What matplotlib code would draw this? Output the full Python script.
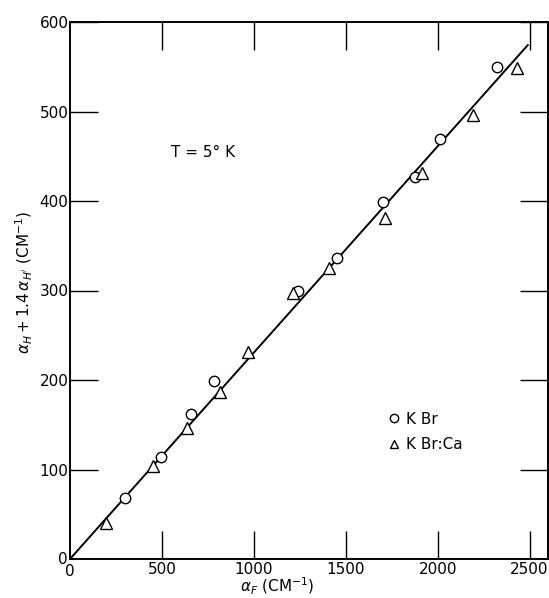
import matplotlib
matplotlib.use("Agg")
import matplotlib.pyplot as plt
import numpy as np

# KBr (open circles)
kbr_x = [300, 495, 660, 785, 1240, 1450, 1705, 1875, 2015, 2320]
kbr_y = [68, 114, 162, 199, 299, 336, 399, 427, 469, 550]

# KBr:Ca (open triangles)
kbrca_x = [196, 452, 637, 817, 970, 1215, 1411, 1716, 1917, 2190, 2429]
kbrca_y = [40, 104, 146, 187, 231, 297, 325, 381, 431, 496, 549]

# straight line through the origin
FIT_SLOPE = 0.2306
FIT_XMAX = 2490

xticks = [500, 1000, 1500, 2000, 2500]
yticks = [100, 200, 300, 400, 500, 600]

plt.rcParams["font.family"] = "DejaVu Sans"
plt.rcParams["mathtext.fontset"] = "dejavusans"

W, H = 549, 598
fig = plt.figure(figsize=(W / 100, H / 100), dpi=100)
ax = fig.add_axes([70 / W, 1 - 559 / H, 478 / W, 537 / H])

fx = np.array([0, FIT_XMAX])
ax.plot(fx, FIT_SLOPE * fx, color="black", lw=1.4)

ax.plot(kbr_x, kbr_y, "o", ms=7.5, mfc="white", mec="black", mew=1.0,
        label="K Br", linestyle="none")
ax.plot(kbrca_x, kbrca_y, "^", ms=8, mfc="white", mec="black", mew=1.0,
        label="K Br:Ca", linestyle="none")

ax.set_xlim(0, 2600)
ax.set_ylim(0, 600)
ax.set_xticks(xticks)
ax.set_yticks(yticks)
ax.tick_params(direction="in", length=20, width=1.0, labelsize=11, pad=2,
               top=True, right=True)
ax.tick_params(axis="y", pad=1)
for s in ax.spines.values():
    s.set_linewidth(1.4)

# origin labels sit at the corner
ax.text(-12, 0, "0", fontsize=11, ha="right", va="center")
ax.text(0, -6, "0", fontsize=11, ha="center", va="top")

fig.text(203 / W, 1 - 152 / H, "T = 5° K", fontsize=11, ha="center", va="center")

ax.legend(loc="upper left", bbox_to_anchor=(382 / W, 1 - 404 / H),
          bbox_transform=fig.transFigure, frameon=False, fontsize=11,
          handlelength=0.6, handletextpad=0.5, labelspacing=0.7,
          markerscale=0.8, borderpad=0)

fig.text(24 / W, 1 - 282 / H, r"$\alpha_H + 1.4\,\alpha_{H'}$ (CM$^{-1}$)",
         fontsize=11, rotation=90, ha="center", va="center")
fig.text(277 / W, 1 - 586 / H, r"$\alpha_F$ (CM$^{-1}$)", fontsize=11,
         ha="center", va="center")

fig.savefig("out.png", dpi=100)
